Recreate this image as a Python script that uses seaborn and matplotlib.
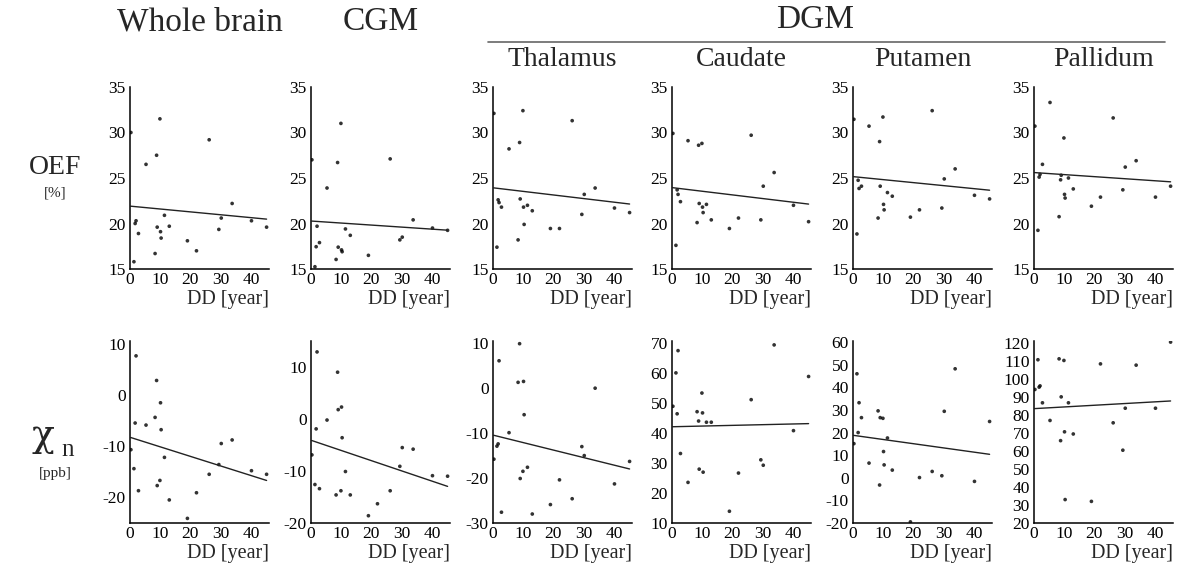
import matplotlib
matplotlib.use('Agg')
import matplotlib.pyplot as plt
import seaborn as sns
import pandas as pd

# disease duration [year], shared by all panels
dd = [0.3, 1.3, 1.7, 2.0, 2.8, 5.3, 8.3, 8.8, 9.0, 9.9, 10.1,
      10.3, 11.4, 13.0, 19.0, 22.0, 26.2, 29.4, 30.2, 33.8, 40.2, 45.2]

# OEF [%]
oef_whole = [30.0, 15.8, 20.0, 20.3, 18.9, 26.5, 16.7, 27.5, 19.6, 31.5, 19.1,
             18.4, 20.9, 19.7, 18.1, 17.0, 29.2, 19.35, 20.6, 22.2, 20.3, 19.6]
oef_cgm = [27.0, 15.25, 17.45, 19.7, 17.9, 23.9, 16.05, 26.7, 17.4, 31.0, 17.1,
           16.9, 19.4, 18.7, 16.5, 14.5, 27.1, 18.2, 18.5, 20.4, 19.5, 19.25]
oef_thal = [32.1, 17.4, 22.6, 22.3, 21.8, 28.2, 18.2, 28.9, 22.7, 32.4, 21.8,
            19.9, 22.0, 21.4, 19.45, 19.45, 31.3, 21.0, 23.2, 23.9, 21.7, 21.2]
oef_caud = [29.9, 17.6, 23.7, 23.2, 22.4, 29.1, 20.1, 28.6, 22.2, 28.8, 21.8,
            21.2, 22.1, 20.4, 19.45, 20.6, 29.7, 20.4, 24.1, 25.6, 22.0, 20.2]
oef_put = [31.45, 18.85, 24.75, 23.85, 24.1, 30.7, 20.6, 29.0, 24.1, 31.7, 22.1,
           21.5, 23.4, 23.0, 20.7, 21.5, 32.4, 21.7, 24.9, 26.0, 23.1, 22.7]
oef_pall = [30.7, 19.25, 25.1, 25.4, 26.5, 33.3, 20.75, 24.8, 25.3, 29.4, 23.2,
            22.8, 25.0, 23.8, 21.9, 22.9, 31.6, 23.7, 26.2, 26.9, 22.9, 24.1]

# chi_n [ppb]
chi_whole = [-10.7, -14.4, -5.5, 7.6, -18.7, -5.9, -4.4, 2.8, -17.7, -16.7, -1.55,
             -6.8, -12.2, -20.5, -24.1, -19.1, -15.5, -13.6, -9.5, -8.8, -14.8, -15.5]
chi_cgm = [-6.9, -12.6, -1.9, 12.9, -13.4, -0.2, -14.6, 9.0, 1.8, -13.8, 2.3,
           -3.6, -10.1, -14.6, -18.6, -16.3, -13.8, -9.1, -5.5, -5.8, -10.9, -11.0]
chi_thal = [-15.8, -12.9, -12.4, 6.1, -27.6, -9.9, 1.3, 9.9, -20.1, -18.5, 1.5,
            -5.9, -17.6, -28.0, -25.9, -20.4, -24.6, -13.0, -15.0, 0.0, -21.3, -16.3]
chi_caud = [48.8, 59.9, 46.3, 67.3, 33.1, 23.5, 47.0, 43.9, 27.9, 53.2, 46.6,
            26.9, 43.5, 43.5, 13.9, 26.6, 51.0, 31.0, 29.2, 69.2, 40.7, 58.7]
chi_put = [15.1, 46.0, 20.0, 33.2, 26.6, 6.5, 29.6, -3.2, 26.6, 26.3, 11.6,
           5.7, 17.6, 3.4, -19.5, 0.1, 2.8, 0.9, 29.4, 48.2, -1.6, 24.9]
chi_pall = [94.1, 110.6, 95.4, 96.1, 86.7, 76.9, 111.1, 65.7, 90.0, 110.2, 70.6,
            33.0, 86.7, 69.4, 32.0, 108.3, 75.6, 60.4, 83.7, 107.6, 83.7, 120.4]

regions = ['Whole brain', 'CGM', 'Thalamus', 'Caudate', 'Putamen', 'Pallidum']
oef_rows = [oef_whole, oef_cgm, oef_thal, oef_caud, oef_put, oef_pall]
chi_rows = [chi_whole, chi_cgm, chi_thal, chi_caud, chi_put, chi_pall]
chi_limits = [(-25, 10.5), (-20, 15), (-30, 10.5), (10, 70.5), (-20, 60.5), (20, 121)]
chi_ticks = [[-20, -10, 0, 10], [-20, -10, 0, 10], [-30, -20, -10, 0, 10],
             list(range(10, 71, 10)), list(range(-20, 61, 10)), list(range(20, 121, 10))]

sns.set_style('white')
plt.rcParams['font.family'] = ['Liberation Serif', 'DejaVu Serif']
plt.rcParams['axes.unicode_minus'] = False

W, H = 1178, 563
fig = plt.figure(figsize=(W / 100, H / 100), dpi=100)

lefts = [130, 311, 493, 672, 853, 1034]
ax_w = 139
rows_px = [(87, 269), (341, 523)]


def style_axis(ax, ylim, yticks):
    ax.set_xlim(0, 46)
    ax.set_xticks([0, 10, 20, 30, 40])
    ax.set_ylim(*ylim)
    ax.set_yticks(yticks)
    for s in ['top', 'right']:
        ax.spines[s].set_visible(False)
    for s in ['left', 'bottom']:
        ax.spines[s].set_color('black')
        ax.spines[s].set_linewidth(1.1)
    ax.tick_params(axis='both', direction='out', length=2.5, width=0.8,
                   labelsize=12.5, pad=0.5, colors='black')
    ax.tick_params(axis='x', pad=0)
    ax.set_xlabel('DD [year]', fontsize=14.5, loc='right', labelpad=1)
    ax.set_ylabel('')


for r, (top, bottom) in enumerate(rows_px):
    for c, left in enumerate(lefts):
        ax = fig.add_axes([left / W, 1 - bottom / H, ax_w / W, (bottom - top) / H])
        ys = oef_rows[c] if r == 0 else chi_rows[c]
        df = pd.DataFrame({'DD': dd, 'val': ys})
        sns.regplot(data=df, x='DD', y='val', ax=ax, ci=None, truncate=True,
                    scatter_kws=dict(s=7, color='black', edgecolors='none'),
                    line_kws=dict(color='#222222', linewidth=1.0))
        if r == 0:
            style_axis(ax, (15, 35), [15, 20, 25, 30, 35])
        else:
            style_axis(ax, chi_limits[c], chi_ticks[c])

# column headers
centers = [l + ax_w / 2 for l in lefts]
fig.text(centers[0] / W, 1 - 22 / H, 'Whole brain', fontsize=24, ha='center', va='center')
fig.text(centers[1] / W, 1 - 22 / H, 'CGM', fontsize=24, ha='center', va='center')
fig.text(815 / W, 1 - 20 / H, 'DGM', fontsize=24, ha='center', va='center')
fig.add_artist(plt.Line2D([488 / W, 1165 / W], [1 - 42 / H, 1 - 42 / H],
                          color='#666666', linewidth=1.2))
for c in range(2, 6):
    fig.text(centers[c] / W, 1 - 60 / H, regions[c], fontsize=20, ha='center', va='center')

# row labels
fig.text(55 / W, 1 - 168 / H, 'OEF', fontsize=20, ha='center', va='center')
fig.text(55 / W, 1 - 193 / H, '[%]', fontsize=11, ha='center', va='center')
fig.text(43 / W, 1 - 436 / H, 'χ', fontsize=27, ha='center', va='center',
         family='DejaVu Serif')
fig.text(68 / W, 1 - 450 / H, 'n', fontsize=18, ha='center', va='center')
fig.text(55 / W, 1 - 473 / H, '[ppb]', fontsize=11, ha='center', va='center')

fig.savefig('out.png', dpi=100, facecolor='white')
